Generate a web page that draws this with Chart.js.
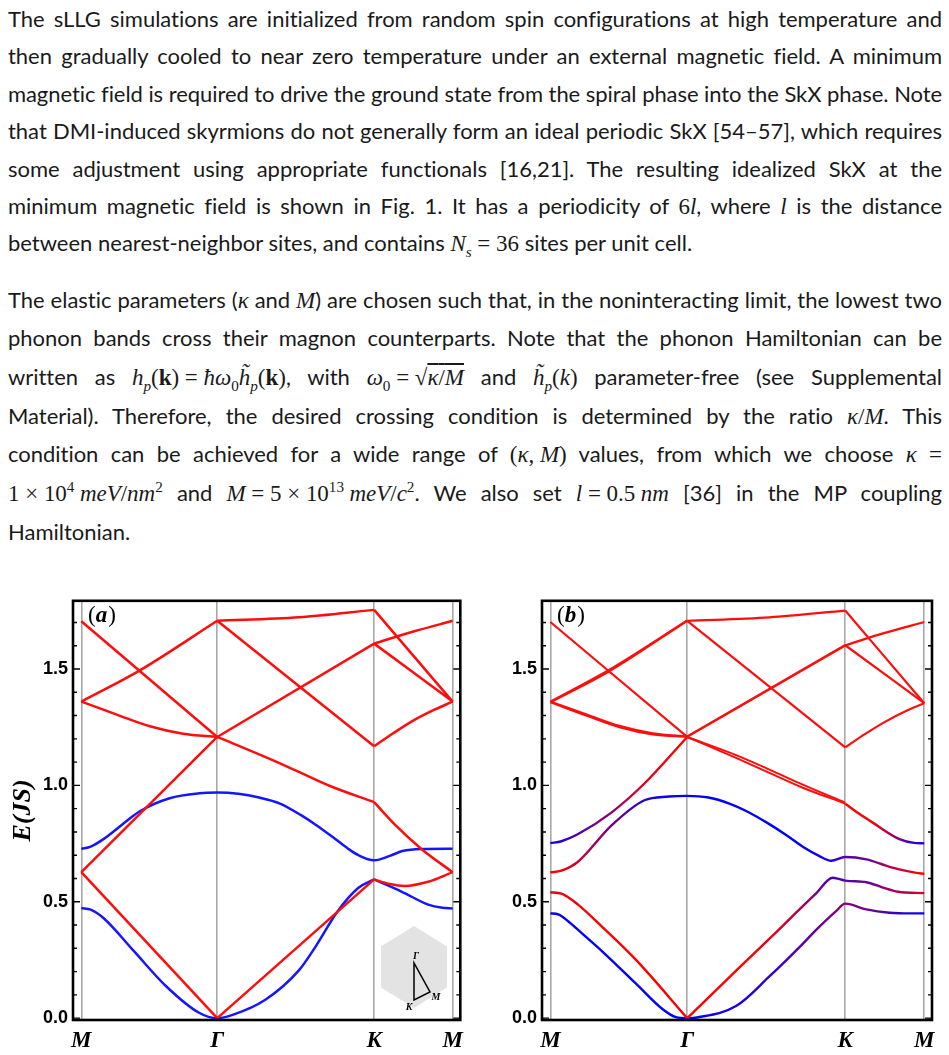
<!DOCTYPE html>
<html>
<head>
<meta charset="utf-8">
<script src="https://cdn.jsdelivr.net/npm/chart.js@4.4.1/dist/chart.umd.min.js"></script>
<style>
  body { margin: 0; width: 949px; height: 1055px; background: #fff; position: relative; overflow: hidden; }
  .para { position: absolute; left: 8px; width: 934px; font-family: Lato, "Liberation Sans", sans-serif; font-size: 22px; color: #1a1a1a; }
  .ln { white-space: nowrap; text-align: justify; text-align-last: justify; }
  .ln.end { text-align-last: left; }
  .mi { font-family: "Liberation Serif", "DejaVu Serif", serif; font-style: italic; font-size: 23px; }
  .mr { font-family: "Liberation Serif", "DejaVu Serif", serif; font-size: 23px; }
  sub, sup { font-size: 0.66em; line-height: 0; }
  .ov { text-decoration: overline; }
  .panel { position: absolute; top: 585px; height: 470px; }
  .probe { position: absolute; left: -9999px; top: 0; }
</style>
</head>
<body>

<div class="para" id="p1" style="top:0px">
  <div class="ln" style="height:37.4px;line-height:37.4px"><span class="in">The sLLG simulations are initialized from random spin configurations at high temperature and</span></div>
  <div class="ln" style="height:37.4px;line-height:37.4px"><span class="in">then gradually cooled to near zero temperature under an external magnetic field. A minimum</span></div>
  <div class="ln" style="height:37.4px;line-height:37.4px"><span class="in">magnetic field is required to drive the ground state from the spiral phase into the SkX phase. Note</span></div>
  <div class="ln" style="height:37.4px;line-height:37.4px"><span class="in">that DMI-induced skyrmions do not generally form an ideal periodic SkX [54–57], which requires</span></div>
  <div class="ln" style="height:37.4px;line-height:37.4px"><span class="in">some adjustment using appropriate functionals [16,21]. The resulting idealized SkX at the</span></div>
  <div class="ln" style="height:37.4px;line-height:37.4px"><span class="in">minimum magnetic field is shown in Fig. 1. It has a periodicity of <span class="mr">6</span><span class="mi">l</span>, where <span class="mi">l</span> is the distance</span></div>
  <div class="ln end" style="height:37.4px;line-height:37.4px"><span class="in">between nearest-neighbor sites, and contains <span class="mi">N<sub>s</sub></span> <span class="mr">= 36</span> sites per unit cell.</span></div>
</div>

<div class="para" id="p2" style="top:280.6px">
  <div class="ln" style="height:38.7px;line-height:38.7px"><span class="in">The elastic parameters (<span class="mi">κ</span> and <span class="mi">M</span>) are chosen such that, in the noninteracting limit, the lowest two</span></div>
  <div class="ln" style="height:38.7px;line-height:38.7px"><span class="in">phonon bands cross their magnon counterparts. Note that the phonon Hamiltonian can be</span></div>
  <div class="ln" style="height:38.7px;line-height:38.7px"><span class="in">written as <span class="mi">h<sub>p</sub></span><span class="mr">(<b>k</b>)&#8197;=&#8197;</span><span class="mi">ħω</span><span class="mr"><sub>0</sub></span><span class="mi">h̃<sub>p</sub></span><span class="mr">(<b>k</b>)</span>, with <span class="mi">ω</span><span class="mr"><sub>0</sub>&#8197;=&#8197;√<span class="ov"><i>κ</i>/<i>M</i></span></span> and <span class="mi">h̃<sub>p</sub></span><span class="mr">(<i>k</i>)</span> parameter-free (see Supplemental</span></div>
  <div class="ln" style="height:38.7px;line-height:38.7px"><span class="in">Material). Therefore, the desired crossing condition is determined by the ratio <span class="mi">κ</span><span class="mr">/</span><span class="mi">M</span>. This</span></div>
  <div class="ln" style="height:38.7px;line-height:38.7px"><span class="in">condition can be achieved for a wide range of <span class="mr">(<i>κ</i>,&#8197;<i>M</i>)</span> values, from which we choose <span class="mi">κ</span> <span class="mr">=</span></span></div>
  <div class="ln" style="height:38.7px;line-height:38.7px"><span class="in"><span class="mr">1&#8197;×&#8197;10<sup>4</sup></span>&#8197;<span class="mi">meV</span><span class="mr">/</span><span class="mi">nm</span><span class="mr"><sup>2</sup></span> and <span class="mi">M</span><span class="mr">&#8197;=&#8197;5&#8197;×&#8197;10<sup>13</sup></span>&#8197;<span class="mi">meV</span><span class="mr">/</span><span class="mi">c</span><span class="mr"><sup>2</sup></span>. We also set <span class="mi">l</span><span class="mr">&#8197;=&#8197;0.5</span>&#8197;<span class="mi">nm</span> [36] in the MP coupling</span></div>
  <div class="ln end" style="height:38.7px;line-height:38.7px"><span class="in">Hamiltonian.</span></div>
</div>

<!-- make sure the bold faces used on the canvas are loaded -->
<div class="probe">
  <span style="font-family:'Liberation Sans';font-weight:700">0.5</span>
  <span style="font-family:'Liberation Serif';font-weight:700;font-style:italic">E(JS) MΓK</span>
</div>

<div class="panel" style="left:0px;width:470px"><canvas id="chartA" width="470" height="470"></canvas></div>
<div class="panel" style="left:470px;width:479px"><canvas id="chartB" width="479" height="470"></canvas></div>

<script>
// path positions along M - Γ - K - M (|ΓM| : |ΓK| : |KM| = √3/2 : 1 : 1/2)
const kPoints = [0, 0.866, 1.866, 2.366];
const kLabels = ["M", "Γ", "K", "M"];
const yTickValues = [0, 0.1, 0.2, 0.3, 0.4, 0.5, 0.6, 0.7, 0.8, 0.9, 1, 1.1, 1.2, 1.3, 1.4, 1.5, 1.6, 1.7];
const yMajorValues = [0, 0.5, 1, 1.5];

//! ------------------------ panel (a): noninteracting bands [k, E] ------------------------
const aR1 = [[0, 1.705], [0.866, 1.208]];
const aR2 = [[0, 1.36], [0.373, 1.494], [0.866, 1.707]];
const aR3 = [[0, 1.36], [0.226, 1.304], [0.437, 1.254], [0.648, 1.222], [0.866, 1.208]];
const aR4 = [[0, 0.627], [0.866, 1.208]];
const aR5 = [[0, 0.627], [0.866, 0]];
const aR6 = [[0.866, 1.707], [1.386, 1.722], [1.866, 1.754]];
const aR7 = [[0.866, 1.707], [1.866, 1.168]];
const aR8 = [[0.866, 1.208], [1.866, 1.609]];
const aR9 = [[0.866, 1.208], [1.175, 1.121], [1.386, 1.058], [1.597, 0.994], [1.866, 0.928]];
const aR10 = [[0.866, 0], [1.866, 0.596]];
const aR11 = [[1.866, 1.754], [2.366, 1.36]];
const aR12 = [[1.866, 1.609], [2.116, 1.661], [2.366, 1.707]];
const aR13 = [[1.866, 1.609], [2.366, 1.36]];
const aR14 = [[1.866, 1.168], [1.99, 1.225], [2.12, 1.28], [2.25, 1.325], [2.366, 1.36]];
const aR15 = [[1.866, 0.928], [2.0, 0.83], [2.167, 0.727], [2.366, 0.627]];
const aR16 = [[1.866, 0.596], [1.966, 0.576], [2.06, 0.568], [2.21, 0.586], [2.366, 0.627]];

const aB1 = [[0, 0.727], [0.06, 0.737], [0.141, 0.769], [0.289, 0.847], [0.373, 0.889], [0.563, 0.945],
  [0.753, 0.966], [0.866, 0.969], [1.0, 0.964], [1.133, 0.948], [1.266, 0.922], [1.4, 0.872], [1.5, 0.828],
  [1.6, 0.779], [1.7, 0.728], [1.766, 0.7], [1.866, 0.678], [1.966, 0.697], [2.046, 0.718], [2.166, 0.727], [2.366, 0.728]];
const aB2a = [[0, 0.473], [0.06, 0.466], [0.141, 0.43], [0.331, 0.291], [0.542, 0.136], [0.753, 0.022],
  [0.866, 0], [0.964, 0.014], [1.175, 0.08], [1.386, 0.205], [1.5, 0.315], [1.629, 0.455], [1.766, 0.56], [1.866, 0.596]];
const aB2b = [[1.866, 0.596], [2.04, 0.544], [2.21, 0.488], [2.3, 0.474], [2.366, 0.471]];

//! ------------------------ panel (b): coupled bands ------------------------
const bR1 = [[0, 1.702], [0.866, 1.208]];
const bR6 = [[0.866, 1.707], [1.386, 1.722], [1.866, 1.751]];
const bR7 = [[0.866, 1.707], [1.866, 1.163]];
const bR11 = [[1.866, 1.751], [2.366, 1.353]];
const bR12 = [[1.866, 1.602], [2.116, 1.655], [2.366, 1.702]];
const bR13 = [[1.866, 1.602], [2.366, 1.353]];
const bR14 = [[1.866, 1.163], [1.99, 1.22], [2.12, 1.274], [2.25, 1.32], [2.366, 1.353]];
// nearly degenerate pairs
const bR2a = [[0, 1.357], [0.373, 1.49], [0.866, 1.707]];
const bR2b = [[0, 1.36], [0.373, 1.497], [0.866, 1.709]];
const bR3a = [[0, 1.357], [0.226, 1.3], [0.437, 1.25], [0.648, 1.219], [0.866, 1.208]];
const bR3b = [[0, 1.36], [0.226, 1.306], [0.437, 1.256], [0.648, 1.224], [0.866, 1.21]];
const bR8a = [[0.866, 1.208], [1.866, 1.6]];
const bR8b = [[0.866, 1.211], [1.866, 1.604]];
const bR9a = [[0.866, 1.208], [1.175, 1.118], [1.386, 1.054], [1.597, 0.99], [1.866, 0.922]];
const bR9b = [[0.866, 1.208], [1.175, 1.13], [1.386, 1.068], [1.597, 1.003], [1.866, 0.926]];

// hybridized bands [k, E, phonon weight]
const bR15 = [[1.866, 0.921, 1], [1.95, 0.88, 1], [2.04, 0.84, 0.95], [2.209, 0.769, 0.5], [2.3, 0.753, 0.2], [2.366, 0.751, 0.15]];
const bX1 = [[0, 0.752, 0.1], [0.07, 0.76, 0.15], [0.173, 0.79, 0.3], [0.384, 0.882, 0.55], [0.595, 1.008, 0.9], [0.866, 1.208, 1]];
const bX2 = [[0, 0.626, 1], [0.07, 0.634, 0.95], [0.173, 0.671, 0.8], [0.384, 0.826, 0.45], [0.595, 0.936, 0.15],
  [0.75, 0.952, 0.02], [0.866, 0.955, 0], [1.0, 0.948, 0], [1.133, 0.922, 0], [1.239, 0.89, 0], [1.37, 0.84, 0],
  [1.492, 0.787, 0], [1.6, 0.735, 0.03], [1.7, 0.697, 0.06], [1.777, 0.676, 0.1], [1.866, 0.692, 0.35],
  [2.0, 0.682, 0.4], [2.146, 0.65, 0.7], [2.315, 0.624, 0.95], [2.366, 0.62, 1]];
const bX3a = [[0, 0.541, 0.9], [0.07, 0.535, 0.92], [0.173, 0.489, 0.97], [0.331, 0.39, 1], [0.542, 0.25, 1], [0.866, 0, 1]];
const bX3b = [[0.866, 0, 1], [1.2, 0.22, 1], [1.4, 0.35, 0.9], [1.55, 0.45, 0.75], [1.68, 0.535, 0.5], [1.787, 0.603, 0.25],
  [1.83, 0.597, 0.3], [1.866, 0.591, 0.35], [2.0, 0.584, 0.4], [2.1, 0.562, 0.55], [2.2, 0.543, 0.7], [2.366, 0.537, 0.85]];
const bX4 = [[0, 0.45, 0.05], [0.05, 0.446, 0.03], [0.118, 0.413, 0.02], [0.2, 0.364, 0], [0.331, 0.285, 0], [0.542, 0.148, 0],
  [0.711, 0.038, 0], [0.795, 0.004, 0], [0.866, 0, 0], [0.937, 0.004, 0.02], [1.175, 0.052, 0.1], [1.386, 0.179, 0.2],
  [1.597, 0.319, 0.35], [1.677, 0.376, 0.42], [1.808, 0.46, 0.5], [1.866, 0.492, 0.55], [2.0, 0.467, 0.45],
  [2.146, 0.453, 0.25], [2.28, 0.45, 0.1], [2.366, 0.45, 0.05]];

const RED = "#ff0d0d";
const BLUE = "#1515ff";
const SERIF = '"Liberation Serif", "Times New Roman", serif';
const SANS = '"Liberation Sans", Arial, sans-serif';

//! ------------------------ text lines ------------------------
// squeeze any line that is wider than the column
const fitLines = () => {
  document.querySelectorAll(".ln").forEach((ln) => {
    const inner = ln.querySelector(".in");
    const w = inner.getBoundingClientRect().width;
    if (w > 932) {
      const n = inner.textContent.length;
      ln.style.letterSpacing = `${(932 - w) / n}px`;
    }
  });
};

//! ------------------------ helpers ------------------------
const toPoints = (arr) => arr.map((p) => ({ x: p[0], y: p[1] }));

const mixColor = (w) => `rgb(${Math.round(255 * w)},0,${Math.round(255 * (1 - w))})`;

const lineDataset = (arr, color, width) => ({
  data: toPoints(arr),
  borderColor: color,
  borderWidth: width,
  pointRadius: 0,
  fill: false,
  cubicInterpolationMode: "monotone",
});

// colour follows the phonon weight along k
const mixedDataset = (arr, width) => {
  const ds = lineDataset(arr, mixColor(arr[0][2]), width);
  ds.borderColor = (context) => {
    const chart = context.chart;
    if (!chart.chartArea) return mixColor(arr[0][2]);
    const sx = chart.scales.x;
    const x0 = sx.getPixelForValue(arr[0][0]);
    const x1 = sx.getPixelForValue(arr[arr.length - 1][0]);
    const g = chart.ctx.createLinearGradient(x0, 0, x1, 0);
    arr.forEach((p) => {
      g.addColorStop((sx.getPixelForValue(p[0]) - x0) / (x1 - x0), mixColor(p[2]));
    });
    return g;
  };
  return ds;
};

const framePlugin = {
  id: "frame",
  afterDatasetsDraw(chart) {
    const { ctx, chartArea: a, scales } = chart;
    ctx.save();
    ctx.strokeStyle = "#000";
    ctx.lineWidth = 1.4;
    yTickValues.forEach((v) => {
      const py = scales.y.getPixelForValue(v);
      const len = yMajorValues.includes(v) ? 7 : 4;
      ctx.beginPath();
      ctx.moveTo(a.left, py);
      ctx.lineTo(a.left + len, py);
      ctx.moveTo(a.right, py);
      ctx.lineTo(a.right - len, py);
      ctx.stroke();
    });
    ctx.lineWidth = 2.6;
    ctx.strokeRect(a.left, a.top, a.right - a.left, a.bottom - a.top);
    ctx.restore();
  },
};

const panelTagPlugin = {
  id: "panelTag",
  afterDraw(chart, args, opts) {
    const { ctx, chartArea: a } = chart;
    let x = a.left + 15;
    const y = a.top + 21;
    ctx.save();
    ctx.fillStyle = "#000";
    ctx.textBaseline = "alphabetic";
    ctx.font = `23px ${SERIF}`;
    ctx.fillText("(", x, y);
    x += ctx.measureText("(").width;
    ctx.font = `italic bold 23px ${SERIF}`;
    ctx.fillText(opts.letter, x, y);
    x += ctx.measureText(opts.letter).width + 1;
    ctx.font = `23px ${SERIF}`;
    ctx.fillText(")", x, y);
    ctx.restore();
  },
};

// small Brillouin-zone sketch in panel (a)
const insetPlugin = {
  id: "bzInset",
  afterDraw(chart, args, opts) {
    if (!opts.show) return;
    const { ctx, chartArea: a } = chart;
    const cx = a.left + 341;
    const cy = a.bottom - 53;
    ctx.save();
    ctx.fillStyle = "#e3e3e3";
    ctx.beginPath();
    ctx.moveTo(cx, cy - 41);
    ctx.lineTo(cx + 33, cy - 20.5);
    ctx.lineTo(cx + 33, cy + 20.5);
    ctx.lineTo(cx, cy + 41);
    ctx.lineTo(cx - 33, cy + 20.5);
    ctx.lineTo(cx - 33, cy - 20.5);
    ctx.closePath();
    ctx.fill();
    ctx.strokeStyle = "#000";
    ctx.lineWidth = 1.5;
    ctx.beginPath();
    ctx.moveTo(cx, cy - 4);
    ctx.lineTo(cx, cy + 33);
    ctx.lineTo(cx + 16, cy + 25);
    ctx.closePath();
    ctx.stroke();
    ctx.fillStyle = "#000";
    ctx.font = `italic bold 10px ${SERIF}`;
    ctx.textAlign = "center";
    ctx.textBaseline = "middle";
    ctx.fillText("Γ", cx + 2, cy - 11);
    ctx.fillText("K", cx - 5, cy + 40);
    ctx.fillText("M", cx + 22, cy + 30);
    ctx.restore();
  },
};

const xScale = () => ({
  type: "linear",
  min: -0.053,
  max: 2.415,
  afterBuildTicks: (s) => {
    s.ticks = kPoints.map((v) => ({ value: v }));
  },
  afterFit: (s) => {
    s.height = 35;
  },
  ticks: {
    autoSkip: false,
    maxRotation: 0,
    padding: 7,
    color: "#000",
    font: { family: SERIF, style: "italic", weight: "bold", size: 23 },
    callback: (v, i) => kLabels[i],
  },
  grid: { color: "#a8a8a8", lineWidth: 1.6, drawTicks: false },
  border: { display: false },
});

const yScale = (width, withTitle) => ({
  type: "linear",
  min: -0.008,
  max: 1.793,
  afterBuildTicks: (s) => {
    s.ticks = yTickValues.map((v) => ({ value: v }));
  },
  afterFit: (s) => {
    s.width = width;
  },
  ticks: {
    autoSkip: false,
    padding: 5,
    color: "#000",
    font: { family: SANS, weight: "bold", size: 18 },
    callback: (v) => (yMajorValues.includes(v) ? v.toFixed(1) : ""),
  },
  grid: { display: false, drawTicks: false },
  border: { display: false },
  title: {
    display: withTitle,
    text: "E(JS)",
    color: "#000",
    font: { family: SERIF, style: "italic", weight: "bold", size: 26 },
    padding: { top: 8, bottom: 0 },
  },
});

const makeChart = (id, datasets, opts) =>
  new Chart(document.getElementById(id), {
    type: "line",
    data: { datasets },
    options: {
      responsive: false,
      animation: false,
      layout: { padding: { top: 9, right: opts.padRight, left: 0, bottom: 0 } },
      scales: { x: xScale(), y: yScale(opts.yWidth, opts.title) },
      plugins: {
        legend: { display: false },
        tooltip: { enabled: false },
        panelTag: { letter: opts.letter },
        bzInset: { show: opts.inset },
      },
    },
    plugins: [framePlugin, panelTagPlugin, insetPlugin],
  });

//! ------------------------ build the page ------------------------
const startApp = () => {
  fitLines();

  const redA = [aR1, aR2, aR3, aR4, aR5, aR6, aR7, aR8, aR9, aR10, aR11, aR12, aR13, aR14, aR15, aR16];
  const blueA = [aB1, aB2a, aB2b];
  const dsA = [
    ...redA.map((b) => lineDataset(b, RED, 2.5)),
    ...blueA.map((b) => lineDataset(b, BLUE, 2.5)),
  ];
  makeChart("chartA", dsA, { padRight: 8, yWidth: 73, title: true, letter: "a", inset: true });

  const thinB = [bR1, bR6, bR7, bR11, bR12, bR13, bR14];
  const pairB = [bR2a, bR2b, bR3a, bR3b, bR8a, bR8b, bR9a, bR9b];
  const mixedB = [bR15, bX1, bX2, bX3a, bX3b, bX4];
  const dsB = [
    ...thinB.map((b) => lineDataset(b, RED, 2.2)),
    ...pairB.map((b) => lineDataset(b, RED, 2)),
    ...mixedB.map((b) => mixedDataset(b, 2.4)),
  ];
  makeChart("chartB", dsB, { padRight: 17, yWidth: 72, title: false, letter: "b", inset: false });
};

document.fonts.ready.then(startApp);
</script>
</body>
</html>
